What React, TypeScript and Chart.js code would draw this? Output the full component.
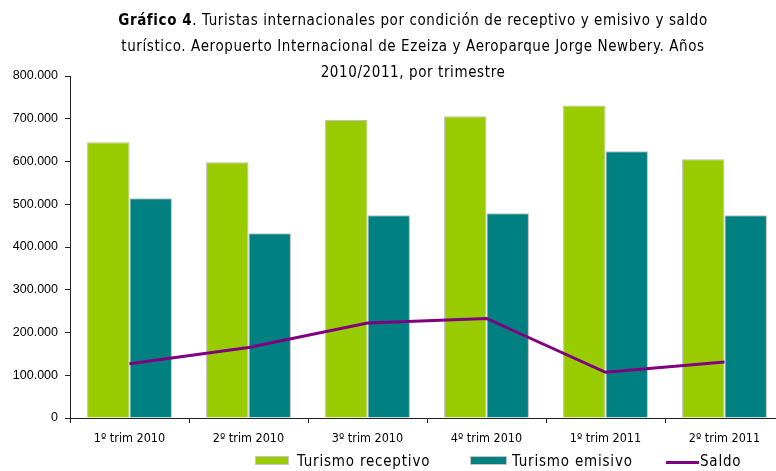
import React, { useEffect, useRef } from "react";
import { Chart, registerables } from "chart.js";

Chart.register(...registerables);

const categories = ["1º trim 2010", "2º trim 2010", "3º trim 2010", "4º trim 2010", "1º trim 2011", "2º trim 2011"];
const receptivo = [645000, 598000, 697000, 706000, 731000, 605000];
const emisivo = [514000, 432000, 474000, 479000, 624000, 474000];
const saldo = [127000, 165000, 222000, 233000, 107000, 131000];
const yTicks = [0, 100000, 200000, 300000, 400000, 500000, 600000, 700000, 800000];

const GREEN = "#99CC00";
const TEAL = "#008080";
const PURPLE = "#800080";
const NARROW = '"Liberation Sans Narrow", "DejaVu Sans Condensed", sans-serif';

function fmt(v: number): string {
  return String(Math.round(v)).replace(/\B(?=(\d{3})+(?!\d))/g, ".");
}

export default function App() {
  const ref = useRef<HTMLCanvasElement | null>(null);

  useEffect(() => {
    if (!ref.current) return;
    const chart = new Chart(ref.current, {
      type: "bar",
      data: {
        labels: categories,
        datasets: [
          {
            type: "line",
            label: "Saldo",
            data: saldo,
            borderColor: PURPLE,
            backgroundColor: PURPLE,
            borderWidth: 3,
            pointRadius: 0,
            tension: 0,
            order: 0,
          } as any,
          {
            label: "Turismo receptivo",
            data: receptivo,
            backgroundColor: GREEN,
            borderColor: "#BDBDBD",
            borderWidth: 1,
            categoryPercentage: 0.713,
            barPercentage: 1,
            order: 1,
          },
          {
            label: "Turismo emisivo",
            data: emisivo,
            backgroundColor: TEAL,
            borderColor: "#BDBDBD",
            borderWidth: 1,
            categoryPercentage: 0.713,
            barPercentage: 1,
            order: 1,
          },
        ],
      },
      options: {
        responsive: false,
        animation: false,
        layout: { padding: { top: 76, right: 16, bottom: 0, left: 0 } },
        plugins: {
          legend: { display: false },
          title: { display: false },
          tooltip: { enabled: false },
        },
        scales: {
          x: {
            grid: {
              display: true,
              drawOnChartArea: false,
              drawTicks: true,
              tickLength: 5,
              color: "#222",
              offset: true,
            },
            border: { display: true, color: "#222", width: 1 },
            ticks: {
              color: "#000",
              font: { family: NARROW, size: 12.5 },
              padding: 8,
              maxRotation: 0,
              autoSkip: false,
            },
            afterFit: (s: any) => {
              s.height = 53;
            },
          },
          y: {
            min: 0,
            max: 800000,
            afterBuildTicks: (s: any) => {
              s.ticks = yTicks.map((v) => ({ value: v }));
            },
            grid: {
              display: true,
              drawOnChartArea: false,
              drawTicks: true,
              tickLength: 5,
              color: "#222",
            },
            border: { display: true, color: "#222", width: 1 },
            ticks: {
              color: "#000",
              font: { family: '"Liberation Sans", Arial, sans-serif', size: 12.5 },
              padding: 7,
              callback: (v: any) => fmt(Number(v)),
            },
            afterFit: (s: any) => {
              s.width = 70;
            },
          },
        },
      },
    });
    return () => chart.destroy();
  }, []);

  const titleStyle: React.CSSProperties = {
    position: "absolute",
    left: 113,
    width: 600,
    textAlign: "center",
    fontFamily: NARROW,
    fontSize: 15,
    letterSpacing: "0.6px",
    color: "#000",
    lineHeight: "26px",
    top: 7,
    whiteSpace: "nowrap",
  };
  const legText: React.CSSProperties = {
    position: "absolute",
    top: 452,
    fontFamily: NARROW,
    fontSize: 15,
    letterSpacing: "0.8px",
    color: "#000",
    lineHeight: "18px",
    whiteSpace: "nowrap",
  };

  return (
    <div style={{ position: "fixed", left: 0, top: 0, width: 776, height: 471, overflow: "hidden", background: "#fff" }}>
      <canvas ref={ref} width={800} height={471} style={{ position: "absolute", left: 0, top: 0 }} />
      <div style={titleStyle}>
        <div><b>Gráfico 4</b>. Turistas internacionales por condición de receptivo y emisivo y saldo</div>
        <div>turístico. Aeropuerto Internacional de Ezeiza y Aeroparque Jorge Newbery. Años</div>
        <div>2010/2011, por trimestre</div>
      </div>
      <div style={{ position: "absolute", left: 255, top: 456, width: 34, height: 9, background: GREEN, border: "1px solid #C4C4C4", boxSizing: "border-box" }} />
      <div style={{ ...legText, left: 297 }}>Turismo receptivo</div>
      <div style={{ position: "absolute", left: 470, top: 456, width: 37, height: 9, background: TEAL, border: "1px solid #C4C4C4", boxSizing: "border-box" }} />
      <div style={{ ...legText, left: 512 }}>Turismo emisivo</div>
      <div style={{ position: "absolute", left: 666, top: 461, width: 33, height: 3, background: PURPLE }} />
      <div style={{ ...legText, left: 700 }}>Saldo</div>
    </div>
  );
}
